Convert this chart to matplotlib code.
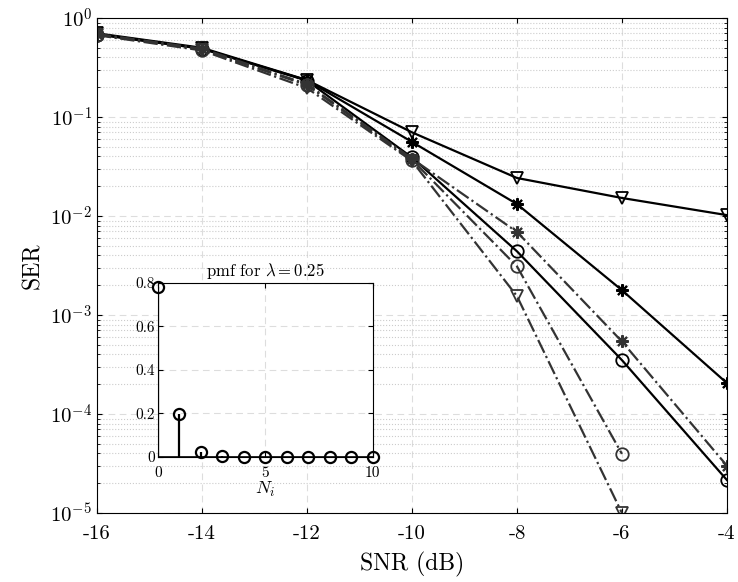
import numpy as np
import matplotlib
matplotlib.use("Agg")
import matplotlib.pyplot as plt

plt.rcParams['font.family'] = 'serif'
plt.rcParams['font.serif'] = ['cmr10', 'DejaVu Serif']
plt.rcParams['mathtext.fontset'] = 'cm'
plt.rcParams['axes.unicode_minus'] = False

# -------------------------------
# data
# -------------------------------
snr = [-16, -14, -12, -10, -8, -6, -4]

ser_tri_solid = [0.70, 0.50, 0.236, 0.070, 0.0242, 0.0152, 0.0102]
ser_star_solid = [0.69, 0.49, 0.235, 0.056, 0.0132, 0.00178, 2.05e-4]
ser_circ_solid = [0.68, 0.49, 0.233, 0.039, 0.0044, 3.5e-4, 2.15e-5]

ser_star_dd = [0.69, 0.49, 0.215, 0.038, 0.0069, 5.4e-4, 3.0e-5]
ser_circ_dd = [0.68, 0.48, 0.210, 0.037, 0.0031, 3.95e-5]
ser_tri_dd = [0.67, 0.47, 0.196, 0.036, 0.00155, 1.0e-5]

pmf_n = [0, 1, 2, 3, 4, 5, 6, 7, 8, 9, 10]
pmf_val = [0.78, 0.195, 0.024, 0.002, 0, 0, 0, 0, 0, 0, 0]

x_ticks = [-16, -14, -12, -10, -8, -6, -4]
y_ticks = [1e0, 1e-1, 1e-2, 1e-3, 1e-4, 1e-5]

fig = plt.figure(figsize=(7.38, 5.82), dpi=100)
ax = fig.add_axes([0.1314, 0.1186, 0.8536, 0.8505])

ast = (8, 2, 0)
dark = '#333333'
ms = 9

ax.plot(snr, ser_tri_solid, '-', color='k', lw=1.6, marker='v', ms=ms, mfc='none', mew=1.3)
ax.plot(snr, ser_star_solid, '-', color='k', lw=1.6, marker=ast, ms=ms, mew=1.5)
ax.plot(snr, ser_circ_solid, '-', color='k', lw=1.6, marker='o', ms=ms, mfc='none', mew=1.3)
ax.plot(snr, ser_star_dd, '-.', color=dark, lw=1.6, marker=ast, ms=ms, mew=1.5)
ax.plot(snr[:6], ser_circ_dd, '-.', color=dark, lw=1.6, marker='o', ms=ms, mfc='none', mew=1.3)
ax.plot(snr[:6], ser_tri_dd, '-.', color=dark, lw=1.6, marker='v', ms=ms, mfc='none', mew=1.3)

ax.set_yscale('log')
ax.set_xlim(-16, -4)
ax.set_ylim(1e-5, 1)
ax.set_xticks(x_ticks)
ax.set_xticklabels([str(t) for t in x_ticks])
ax.set_yticks(y_ticks)
ax.set_yticklabels([r'$10^{%d}$' % int(np.log10(t)) for t in y_ticks])
ax.tick_params(which='both', direction='in', top=True, right=True, labelsize=15)
ax.tick_params(axis='x', pad=9)
ax.grid(True, which='major', ls=(0, (6, 4)), color='#dddddd', lw=0.8)
ax.grid(True, which='minor', ls=':', color='#cccccc', lw=0.8)
ax.set_xlabel('SNR (dB)', fontsize=17, labelpad=6)
ax.set_ylabel('SER', fontsize=17)

# -------------------------------
# inset: pmf
# -------------------------------
ins = fig.add_axes([0.214, 0.215, 0.291, 0.299])
markerline, stemlines, baseline = ins.stem(pmf_n, pmf_val, linefmt='k-', markerfmt='ko', basefmt='k-')
plt.setp(markerline, mfc='none', ms=8, mew=1.6, clip_on=False)
plt.setp(stemlines, lw=1.6)
plt.setp(baseline, lw=1.2)
ins.set_xlim(0, 10)
ins.set_ylim(0, 0.8)
ins.set_xticks([0, 5, 10])
ins.set_yticks([0, 0.2, 0.4, 0.6, 0.8])
ins.set_yticklabels(['0', '0.2', '0.4', '0.6', '0.8'])
ins.tick_params(direction='in', top=True, right=True, labelsize=11, pad=2)
ins.tick_params(axis='x', pad=7)
ins.grid(True, ls=(0, (6, 4)), color='#dddddd', lw=0.8)
ins.set_title(r'pmf for $\lambda = 0.25$', fontsize=12, pad=5)
ins.set_xlabel(r'$N_i$', fontsize=13, labelpad=0)

fig.savefig('out.png', dpi=100)
